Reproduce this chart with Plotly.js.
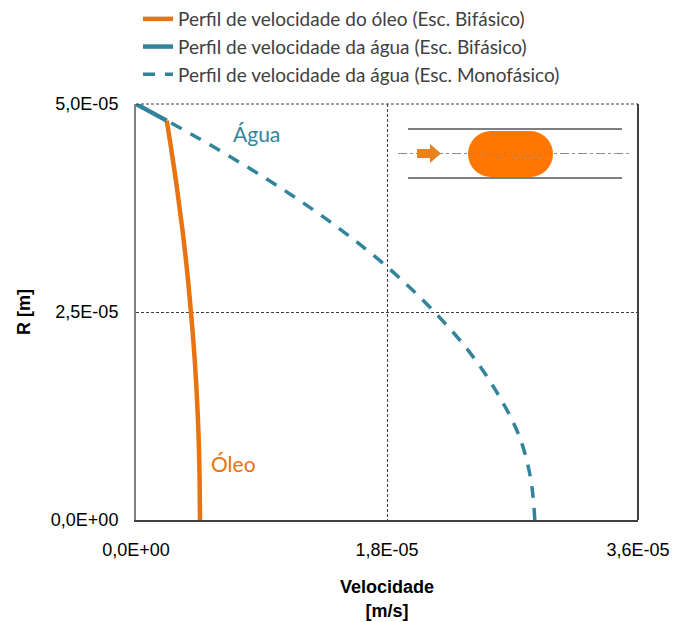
<!DOCTYPE html>
<html>
<head>
<meta charset="utf-8">
<script src="https://cdn.plot.ly/plotly-3.0.1.min.js"></script>
<style>html,body{margin:0;padding:0;background:#fff;}#chart{width:675px;height:622px;}</style>
</head>
<body>
<div id="chart"></div>
<script>
// Radius positions (m) and velocities (m/s)
const rOil = [0, 0.5e-5, 1.0e-5, 1.5e-5, 2.0e-5, 2.5e-5, 3.0e-5, 3.5e-5, 4.0e-5, 4.5e-5, 4.8e-5];
const vOil = [0.459e-5, 0.456e-5, 0.449e-5, 0.436e-5, 0.418e-5, 0.394e-5, 0.366e-5, 0.332e-5, 0.293e-5, 0.249e-5, 0.220e-5];

const rWaterBi = [4.8e-5, 5.0e-5];
const vWaterBi = [0.220e-5, 0];

const rWaterMono = [0, 0.5e-5, 1.0e-5, 1.5e-5, 2.0e-5, 2.5e-5, 3.0e-5, 3.5e-5, 4.0e-5, 4.5e-5, 4.8e-5, 5.0e-5];
const vWaterMono = [2.86e-5, 2.83e-5, 2.75e-5, 2.60e-5, 2.40e-5, 2.14e-5, 1.83e-5, 1.46e-5, 1.03e-5, 0.54e-5, 0.22e-5, 0];

const seriesNames = [
  'Perfil de velocidade do óleo (Esc. Bifásico)',
  'Perfil de velocidade da água (Esc. Bifásico)',
  'Perfil de velocidade da água (Esc. Monofásico)'
];

const xTickVals = [0, 1.8e-5, 3.6e-5];
const xTickText = ['0,0E+00', '1,8E-05', '3,6E-05'];
const yTickVals = [0, 2.5e-5, 5.0e-5];
const yTickText = ['0,0E+00', '2,5E-05', '5,0E-05'];

const ORANGE = '#E8730F';
const TEAL = '#31849B';

const traces = [
  {x: vOil, y: rOil, name: seriesNames[0], mode: 'lines', line: {color: ORANGE, width: 4.5, shape: 'spline', smoothing: 1}},
  {x: vWaterBi, y: rWaterBi, name: seriesNames[1], mode: 'lines', line: {color: TEAL, width: 4.5}},
  {x: vWaterMono, y: rWaterMono, name: seriesNames[2], mode: 'lines', line: {color: TEAL, width: 3.5, dash: '12px,10px', shape: 'spline', smoothing: 1}}
];

// pixel -> paper helpers for decorative inset
const L = 136, R = 638, T = 104, B = 520;
const px = v => (v - L) / (R - L);
const py = v => (B - v) / (B - T);

const shapes = [
  // right border
  {type: 'line', xref: 'paper', yref: 'paper', x0: 1, x1: 1, y0: 0, y1: 1, line: {color: '#404040', width: 2}},
  // top dashed border
  {type: 'line', xref: 'paper', yref: 'paper', x0: 0, x1: 1, y0: 1, y1: 1, line: {color: '#404040', width: 1, dash: '3px,2px'}},
  // pipe walls
  {type: 'line', xref: 'paper', yref: 'paper', x0: px(408), x1: px(622), y0: py(129), y1: py(129), line: {color: '#7f7f7f', width: 2}},
  {type: 'line', xref: 'paper', yref: 'paper', x0: px(408), x1: px(622), y0: py(178), y1: py(178), line: {color: '#7f7f7f', width: 2}},
  // droplet (pill)
  {type: 'circle', xref: 'paper', yref: 'paper', x0: px(468), x1: px(514), y0: py(177), y1: py(131), fillcolor: '#FF7700', line: {width: 0}},
  {type: 'circle', xref: 'paper', yref: 'paper', x0: px(507), x1: px(553), y0: py(177), y1: py(131), fillcolor: '#FF7700', line: {width: 0}},
  {type: 'rect', xref: 'paper', yref: 'paper', x0: px(490), x1: px(531), y0: py(177), y1: py(131), fillcolor: '#FF7700', line: {width: 0}},
  // center line
  {type: 'line', xref: 'paper', yref: 'paper', x0: px(398), x1: px(630), y0: py(153.5), y1: py(153.5), line: {color: '#8c8c8c', width: 1, dash: 'dashdot'}},
  // arrow
  {type: 'path', xref: 'paper', yref: 'paper',
   path: `M ${px(417)},${py(149)} L ${px(430)},${py(149)} L ${px(430)},${py(144)} L ${px(441)},${py(153.5)} L ${px(430)},${py(163)} L ${px(430)},${py(158)} L ${px(417)},${py(158)} Z`,
   fillcolor: '#E8821E', line: {width: 0}}
];

const annotations = [
  {text: 'Água', xref: 'paper', yref: 'paper', x: px(256), y: py(133), showarrow: false, xanchor: 'center', yanchor: 'middle',
   font: {family: 'Lato, "Open Sans", sans-serif', size: 21, color: TEAL}},
  {text: 'Óleo', xref: 'paper', yref: 'paper', x: px(233), y: py(463), showarrow: false, xanchor: 'center', yanchor: 'middle',
   font: {family: 'Lato, "Open Sans", sans-serif', size: 21, color: ORANGE}}
];

const layout = {
  width: 675, height: 622,
  margin: {l: L, r: 675 - R, t: T, b: 622 - B, autoexpand: false},
  paper_bgcolor: '#fff', plot_bgcolor: '#fff',
  showlegend: true,
  legend: {
    x: px(138), y: py(0), xanchor: 'left', yanchor: 'top',
    font: {family: 'Lato, "Open Sans", sans-serif', size: 19, color: '#404040'},
    bgcolor: 'rgba(0,0,0,0)', tracegroupgap: 0
  },
  xaxis: {
    range: [0, 3.6e-5], tickvals: xTickVals, ticktext: xTickText,
    showline: true, linecolor: '#404040', linewidth: 2,
    showgrid: true, gridcolor: '#404040', gridwidth: 1, griddash: '3px,2px',
    zeroline: false, ticks: '', ticklabelstandoff: 12, automargin: true,
    tickfont: {family: '"Liberation Sans", Arial, sans-serif', size: 18, color: '#000'},
    title: {text: '<b>Velocidade<br>[m/s]</b>', standoff: 22,
            font: {family: '"Liberation Sans", Arial, sans-serif', size: 18, color: '#000'}}
  },
  yaxis: {
    range: [0, 5.0e-5], tickvals: yTickVals, ticktext: yTickText,
    showline: true, linecolor: '#808080', linewidth: 2,
    showgrid: true, gridcolor: '#404040', gridwidth: 1, griddash: '3px,2px',
    zeroline: false, ticks: '', ticklabelstandoff: 12, automargin: true,
    tickfont: {family: '"Liberation Sans", Arial, sans-serif', size: 18, color: '#000'},
    title: {text: '<b>R [m]</b>', standoff: 16,
            font: {family: '"Liberation Sans", Arial, sans-serif', size: 18, color: '#000'}}
  },
  shapes: shapes,
  annotations: annotations
};

Plotly.newPlot('chart', traces, layout, {displayModeBar: false, staticPlot: true});
</script>
</body>
</html>
